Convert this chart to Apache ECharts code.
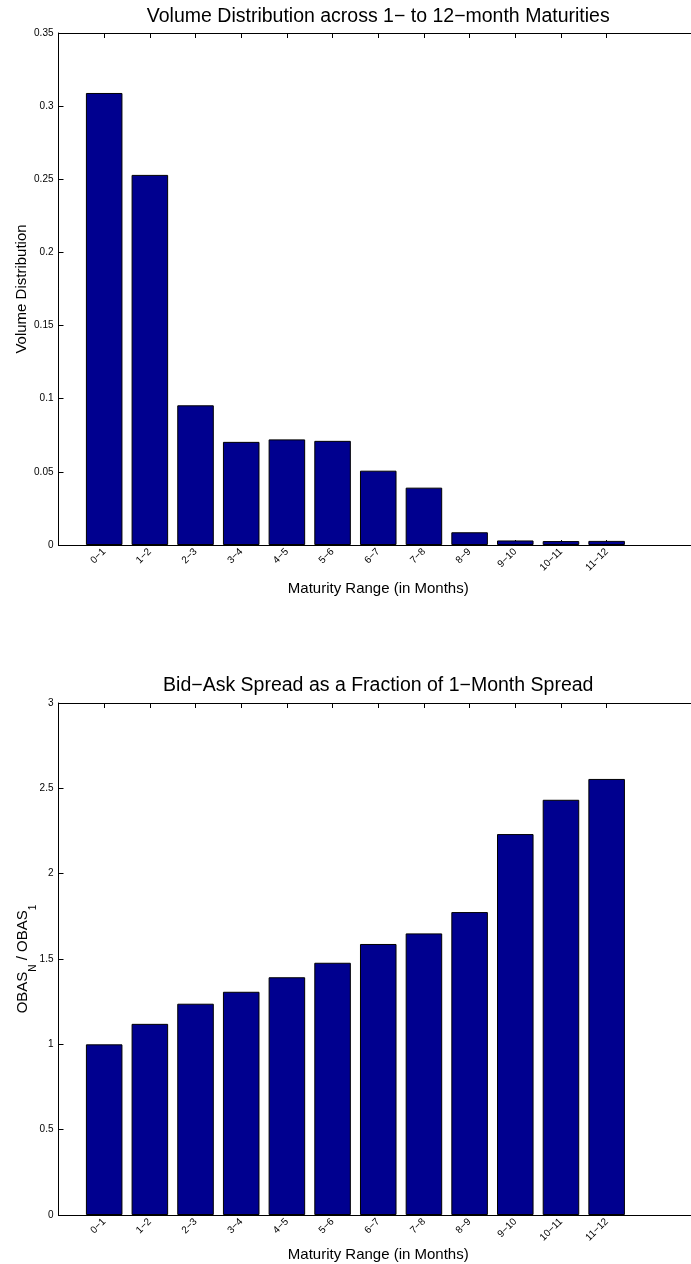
<!DOCTYPE html>
<html><head><meta charset="utf-8">
<script src="https://cdn.jsdelivr.net/npm/echarts@6/dist/echarts.min.js"></script>
<style>html,body{margin:0;padding:0;background:#fff}#c{width:691px;height:1264px}</style>
</head><body><div id="c"></div>
<script>
// ---- data ----
const categories = ['0−1','1−2','2−3','3−4','4−5','5−6','6−7','7−8','8−9','9−10','10−11','11−12'];
const volumeValues = [0.309, 0.253, 0.0955, 0.0705, 0.0722, 0.0712, 0.0508, 0.0392, 0.0087, 0.0031, 0.0027, 0.0028];
const spreadValues = [1.0, 1.12, 1.238, 1.308, 1.393, 1.478, 1.588, 1.650, 1.775, 2.232, 2.433, 2.555];
const volumeTicks = [0, 0.05, 0.1, 0.15, 0.2, 0.25, 0.3, 0.35];
const spreadTicks = [0, 0.5, 1, 1.5, 2, 2.5, 3];
const titles = ['Volume Distribution across 1− to 12−month Maturities', 'Bid−Ask Spread as a Fraction of 1−Month Spread'];
const xName = 'Maturity Range (in Months)';
const yNames = ['Volume Distribution', '{m|OBAS}{s|N}{m| / OBAS}{s|1}'];

// ---- build ----
const FONT = 'Liberation Sans, Arial, Helvetica, sans-serif';
const axisCats = [''].concat(categories, ['', '']);
const pad = v => ['-'].concat(v, ['-', '-']);
const GL = 58.5, GW = 639.5, GH = 512;
const tops = [33, 703];
const tickShow = (i) => i >= 1 && i <= categories.length;

const chart = echarts.init(document.getElementById('c'), null, {renderer: 'canvas'});
const lineStyle = {color: '#000', width: 1};
function xBottom(g, gap) {
  return {
    type: 'category', gridIndex: g, data: axisCats, boundaryGap: false, position: 'bottom',
    axisLine: {show: true, lineStyle},
    axisTick: {show: true, inside: true, length: 5, interval: tickShow, lineStyle},
    axisLabel: {show: true, interval: 0, rotate: 45, fontSize: 10, margin: 5, color: '#000', fontFamily: FONT},
    name: xName, nameLocation: 'middle', nameGap: gap,
    nameTextStyle: {fontSize: 15, color: '#000', fontFamily: FONT},
    splitLine: {show: false}
  };
}
function xTop(g) {
  return {
    type: 'category', gridIndex: g, data: axisCats, boundaryGap: false, position: 'top',
    axisLine: {show: true, lineStyle},
    axisTick: {show: true, inside: true, length: 5, interval: tickShow, lineStyle},
    axisLabel: {show: false}, splitLine: {show: false}
  };
}
function yAx(g, ticks, name, gap, rich) {
  return {
    type: 'value', gridIndex: g, min: ticks[0], max: ticks[ticks.length - 1], interval: ticks[1] - ticks[0],
    axisLine: {show: true, lineStyle},
    axisTick: {show: true, inside: true, length: 5, lineStyle},
    axisLabel: {show: true, fontSize: 10, margin: 5, color: '#000', fontFamily: FONT},
    splitLine: {show: false},
    name: name, nameLocation: 'middle', nameRotate: 90, nameGap: gap, nameMoveOverlap: false,
    nameTextStyle: Object.assign({fontSize: 15, color: '#000', fontFamily: FONT}, rich ? {rich} : {})
  };
}
const rich = {
  m: {fontSize: 15, lineHeight: 16, verticalAlign: 'top', color: '#000', fontFamily: FONT},
  s: {fontSize: 10, lineHeight: 10, verticalAlign: 'top', padding: [13, 0, 0, 0], color: '#000', fontFamily: FONT}
};
const barStyle = {color: '#00008F', borderColor: '#000', borderWidth: 1};

chart.setOption({
  animation: false,
  backgroundColor: '#fff',
  grid: tops.map(t => ({left: GL, top: t, width: GW, height: GH, containLabel: false, outerBoundsMode: 'none'})),
  xAxis: [xBottom(0, 36), xTop(0), xBottom(1, 32), xTop(1)],
  yAxis: [yAx(0, volumeTicks, yNames[0], 29), yAx(1, spreadTicks, yNames[1], 27, rich)],
  series: [
    {type: 'bar', xAxisIndex: 0, yAxisIndex: 0, data: pad(volumeValues), barWidth: '80%', itemStyle: barStyle},
    {type: 'bar', xAxisIndex: 2, yAxisIndex: 1, data: pad(spreadValues), barWidth: '80%', itemStyle: barStyle}
  ],
  graphic: titles.map((t, i) => ({
    type: 'text', x: GL + GW / 2, y: [16.7, 686][i],
    style: {text: t, fontSize: 19.5, fontFamily: FONT, fill: '#000', align: 'center', verticalAlign: 'middle'}
  }))
});
</script></body></html>
